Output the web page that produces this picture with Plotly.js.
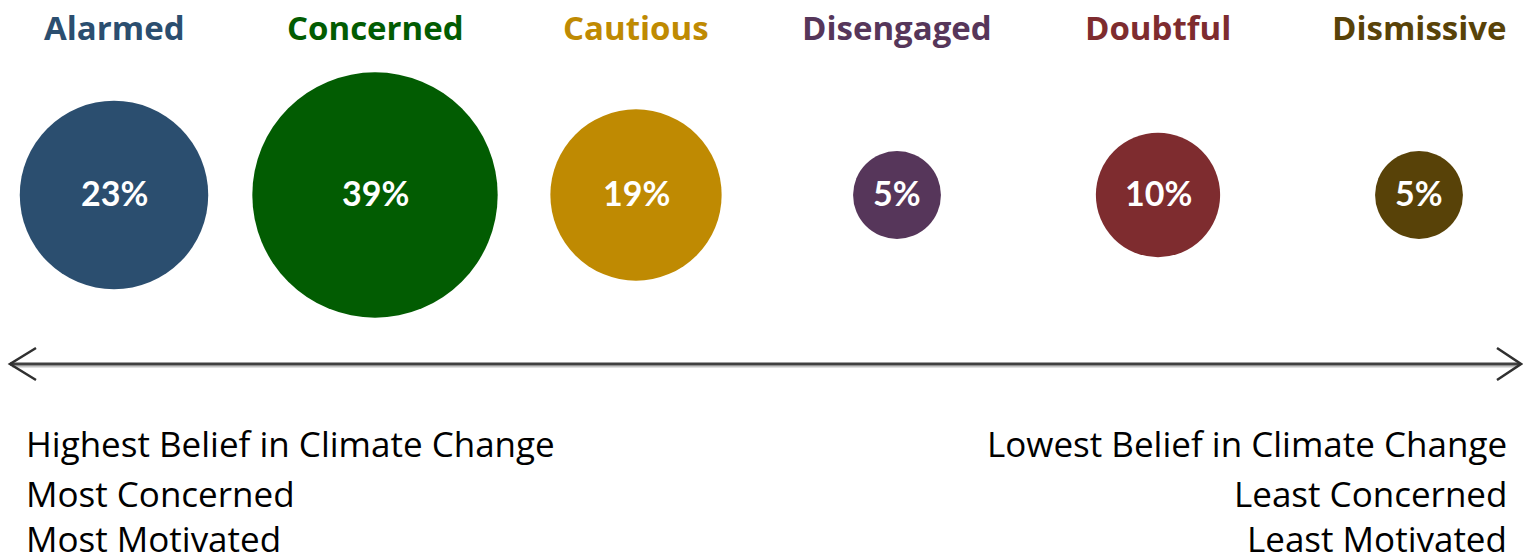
<!DOCTYPE html>
<html><head><meta charset="utf-8">
<script src="https://cdn.plot.ly/plotly-3.0.1.min.js"></script>
<style>html,body{margin:0;padding:0;background:#fff;} #chart{width:1523px;height:557px;}</style>
</head><body><div id="chart"></div>
<script>
const categories = ['Alarmed','Concerned','Cautious','Disengaged','Doubtful','Dismissive'];
const shares = [23,39,19,5,10,5];
const colors = ['#2B4E6F','#025C02','#BF8A02','#56365A','#7E2C2F','#584208'];
const leftNotes = ['Highest Belief in Climate Change','Most Concerned','Most Motivated'];
const rightNotes = ['Lowest Belief in Climate Change','Least Concerned','Least Motivated'];

const W = 1523, H = 557;
const px = x => x / W;
const py = y => 1 - y / H;
const LATO = 'Lato, "Open Sans", sans-serif';
const OPEN = '"Open Sans", Lato, sans-serif';

const bubbles = {
  type: 'scatter',
  mode: 'markers',
  x: categories,
  y: categories.map(() => 0),
  marker: {size: shares, sizemode: 'area', sizeref: 1/772, color: colors, line: {width: 0}, opacity: 1},
  hoverinfo: 'skip',
  cliponaxis: false
};

const annotations = categories.map((c, i) => ({
  x: c, y: 168, xref: 'x', yref: 'y',
  text: '<b>' + c + '</b>', showarrow: false,
  xanchor: 'center', yanchor: 'middle',
  font: {family: OPEN, size: 33, color: colors[i]}
}));
categories.forEach((c, i) => annotations.push({
  x: c, y: 0, xref: 'x', yref: 'y', yshift: 3,
  text: '<b>' + shares[i] + '%</b>', showarrow: false,
  xanchor: 'center', yanchor: 'middle',
  font: {family: LATO, size: 34, color: '#ffffff'}
}));
const lineY = [443, 493, 538];
leftNotes.forEach((t, i) => annotations.push({
  x: px(24), y: py(lineY[i]), xref: 'paper', yref: 'paper',
  text: t, showarrow: false, xanchor: 'left', yanchor: 'middle',
  font: {family: OPEN, size: 35, color: '#000000'}
}));
rightNotes.forEach((t, i) => annotations.push({
  x: px(1509), y: py(lineY[i]), xref: 'paper', yref: 'paper',
  text: t, showarrow: false, xanchor: 'right', yanchor: 'middle',
  font: {family: OPEN, size: 35, color: '#000000'}
}));

const shapes = [
  {type: 'line', xref: 'paper', yref: 'paper', x0: px(12), x1: px(1518), y0: py(366.5), y1: py(366.5), line: {color: '#c4c4c4', width: 2}},
  {type: 'line', xref: 'paper', yref: 'paper', x0: px(10), x1: px(1520), y0: py(364), y1: py(364), line: {color: '#404040', width: 3}},
  {type: 'path', xref: 'paper', yref: 'paper',
   path: `M${px(36)},${py(348)} L${px(10)},${py(364)} L${px(36)},${py(380)}`, line: {color: '#303030', width: 2.5}},
  {type: 'path', xref: 'paper', yref: 'paper',
   path: `M${px(1497)},${py(348)} L${px(1521)},${py(364)} L${px(1497)},${py(380)}`, line: {color: '#303030', width: 2.5}}
];

const layout = {
  width: W, height: H,
  margin: {l: 0, r: 0, t: 0, b: 0, pad: 0},
  paper_bgcolor: '#ffffff', plot_bgcolor: '#ffffff',
  showlegend: false, hovermode: false,
  xaxis: {type: 'category', range: [-114/261, (W-114)/261], visible: false, fixedrange: true},
  yaxis: {range: [-(H-195), 195], visible: false, fixedrange: true},
  annotations: annotations,
  shapes: shapes
};

Plotly.newPlot('chart', [bubbles], layout, {staticPlot: true, displayModeBar: false});
</script>
</body></html>
